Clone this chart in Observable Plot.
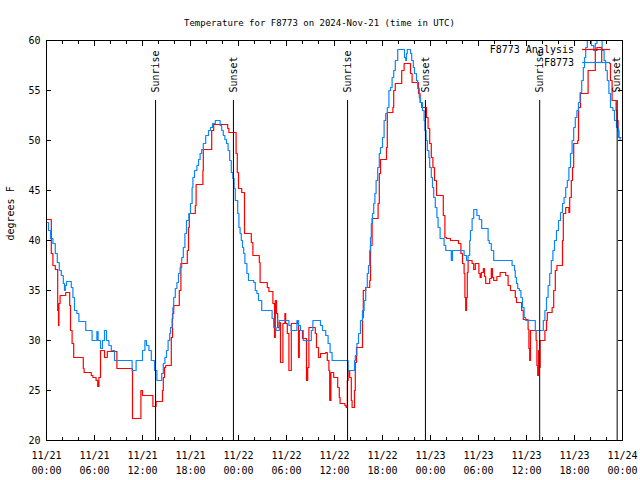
<!DOCTYPE html>
<html><head><meta charset="utf-8">
<script src="https://cdn.jsdelivr.net/npm/d3@7"></script>
<script src="https://cdn.jsdelivr.net/npm/@observablehq/plot@0.6"></script>
<style>body{margin:0;background:#fff}#chart{position:relative;width:640px;height:480px}</style>
</head><body><div id="chart"></div>
<script>
const titleText = "Temperature for F8773 on 2024-Nov-21 (time in UTC)";
const yLabel = "degrees F";
const startTime = "2024-11-21T00:00:00Z";
const endTime = "2024-11-24T00:00:00Z";
const seriesNames = ["F8773 Analysis", "F8773"];
const seriesColors = ["#ff0000", "#0a84ff"];
const yTicks = [20, 25, 30, 35, 40, 45, 50, 55, 60];

// Observations (blue): hours since start, degrees F
const obsHours = [0,0.25,0.5,0.8,1.1,1.35,1.6,1.85,2.1,2.25,2.35,2.5,3.1,3.3,3.5,3.8,4.05,4.9,5.7,6.3,6.45,6.75,7.0,7.25,7.5,7.8,8.1,8.5,10.7,11.2,12.0,12.3,12.5,12.8,13.1,13.5,13.8,
14.4,14.6,14.8,15.0,15.2,15.4,15.5,15.7,15.8,15.9,16.1,16.3,16.5,16.7,16.9,17.1,17.3,17.5,17.8,18.0,18.2,18.3,18.5,18.8,19.0,19.2,19.4,19.6,19.9,20.25,20.5,20.75,21.1,21.7,21.9,22.1,22.3,22.5,22.7,22.9,23.1,23.3,23.45,23.6,23.9,24.05,24.2,24.35,24.5,24.65,24.8,25.05,25.25,25.9,26.1,26.3,26.5,26.9,28.2,28.4,28.7,29.1,30.3,30.6,31.3,31.5,31.75,32.1,33.1,33.3,34.25,34.5,34.9,35.2,35.45,35.7,37.7,38.5,38.6,38.8,39.0,39.25,39.5,39.7,39.9,40.1,40.25,40.4,40.5,40.6,40.75,40.9,41.05,41.2,41.4,41.6,41.75,42.0,42.2,42.4,42.6,42.8,43.0,43.2,43.4,43.6,43.9,44.75,44.9,45.0,45.1,45.5,45.65,45.85,46.0,46.25,46.4,46.6,46.75,47.0,47.2,47.3,47.45,47.6,47.8,47.9,48.1,48.25,48.4,48.6,48.8,48.95,49.2,49.7,49.9,50.6,50.75,52.2,52.5,52.7,52.9,53.0,53.2,53.4,53.8,54.1,54.4,55.2,55.35,55.6,55.9,58.2,58.5,58.6,58.75,58.9,59.1,59.3,59.5,59.7,59.9,61.1,62.1,62.3,62.5,62.7,62.9,63.1,63.3,63.5,63.75,64.0,64.25,64.5,64.7,64.9,65.1,65.3,65.5,65.7,65.9,66.1,66.3,66.5,66.7,66.9,67.1,67.25,67.4,67.6,68.1,68.4,68.6,68.8,69.45,69.7,69.9,70.1,70.3,70.5,70.8,71.0,71.25,71.5,71.7,71.8];
const obsTemps = [41.8,41,40.2,39.7,38.7,37.8,37,36.5,35.7,35,35.5,35.9,35.3,34.3,33,32.7,31.9,31,30,30.9,30,29.2,30,31,30,29.5,29,28,27,28,29,30,29.5,29,28,27,26,
26.7,27.7,28.3,29,30,30.7,31.3,32.2,33.3,34.3,35.2,35.8,36.7,37.3,38.3,39.3,40.7,42,42.7,43.7,45.3,46.3,47,47.5,48.1,48.7,49.1,49.7,50.5,51,51.3,51.7,52,51.5,51,50.5,50.1,49.7,49,48,46.8,46.2,45.2,44,42.7,41.3,40.7,40,39.3,38.7,37.7,36.7,36,35.8,35,34.7,34,33,32.2,31.3,31,32,31.5,31,32,31.5,31,30,31,32,31.5,31,30.5,29.7,28.8,28,27,28,28.5,29.7,30.7,32,33,34,35.3,36.7,37.5,39,40.3,41.7,42.7,43.7,44.7,46,47.3,48.7,49.3,50.3,52,52.7,53.3,55,55.3,56.3,57,58,59.1,58.3,58,58.7,59.1,58.7,58,57.3,56.7,56,55.2,54.3,53.8,53,52,51,50,49,48.3,47.3,46.3,45.3,44.3,43.3,42.3,41.3,40.2,39.5,39,38,39,38.5,38,38.5,40,41,42.2,43.1,42.5,42.1,41.2,40,39.7,39,38,37.5,37,36.3,35.7,35.2,35,34.3,33.3,32.3,32,31,32,33,34.3,35.5,36.7,38,39,40,41,42,42.8,43.7,44.3,45.3,46,47.3,48.7,50,51.3,52.3,53,53.8,54.8,56,57.3,58.3,59.3,60.3,59.5,59,59.7,60.3,59,58,57,56,54.7,53.3,53,52,51.3,50.3,50,50];

// Analysis (red): hours since start, degrees F
const anaHours = [0,0.6,0.8,1.1,1.4,1.5,1.55,1.7,2.4,2.9,3.0,3.2,3.4,4.6,4.7,5.6,5.8,6.2,6.4,6.55,6.75,7.25,7.6,8.8,10.75,11.8,12.0,13.3,13.7,
14.5,14.6,14.75,14.9,15.6,15.75,15.9,16.6,16.8,17.6,17.75,17.85,18.6,18.7,19.55,19.6,20.65,20.9,22.65,22.8,23.7,23.85,24.0,24.4,24.75,25.6,25.8,26.6,26.7,27.6,27.8,28.3,28.5,28.6,28.75,28.9,29.1,29.25,29.55,29.8,29.9,30.1,30.3,30.6,31.4,31.5,31.6,32.0,32.5,32.65,32.8,33.6,33.75,34.0,34.25,34.9,35.1,35.3,35.4,35.55,35.9,36.4,36.6,36.7,37.3,37.45,37.6,37.7,37.9,38.1,38.2,38.5,38.6,38.75,39.5,39.6,39.9,40.4,40.5,40.7,41.45,41.6,41.75,42.5,42.6,43.3,43.4,43.6,44.4,44.7,45.5,45.7,46.5,46.7,46.9,47.5,47.7,47.9,48.1,48.3,48.5,48.75,49.6,49.8,50.0,50.5,51.5,51.8,52.0,52.2,52.3,52.4,52.5,52.6,52.7,53.2,53.4,53.6,54.05,54.2,54.35,54.6,54.75,54.9,55.4,55.6,55.75,55.9,56.3,56.7,57.4,57.7,58.0,58.6,58.75,59.4,59.6,60.2,60.3,60.4,60.5,61.2,61.3,61.4,61.5,61.6,61.7,62.3,62.5,62.6,63.2,63.4,63.6,63.8,64.5,64.6,64.9,65.3,65.4,65.6,65.75,65.9,66.4,66.5,66.75,67.7,68.6,68.8,69.4,70.4,70.5,70.7,71.2,71.3,71.45,71.55,71.8];
const anaTemps = [42.1,38.7,37.5,37.1,33,31.5,33.7,34.5,34.8,33.5,31,29.7,28.3,27.2,26.8,26.5,26.3,26,25.4,26.3,29,28.3,28.9,27.2,22.2,25,24.5,23.4,23.9,
25,26.3,27.3,27.5,30.3,32.7,33.5,35,37.7,39,41.3,42.7,43.5,45.6,47,49.1,51,51.6,51.2,50.8,48.7,46.8,45.2,44.8,40.7,39.8,38.5,37.8,35.8,35.3,34.9,33.7,30.3,34,32.7,31.3,31.8,27.8,31.7,32.7,31.7,30.7,27,31.7,32,28.3,31,30.2,26,27.3,31.3,30.7,29.3,28.3,28.7,28.8,28,27,24,26.8,26.3,25.3,24.3,23.7,23.5,23.3,26,27,26.3,24,23.3,25,27.8,29.3,32.3,35,35.3,36,39.5,42.2,43.7,46.7,48.1,49.3,52.8,53.3,55,55.7,57,57.7,56.7,55.8,54.7,53.8,53.3,52.3,51.2,49.7,48.3,47.3,46,44.5,42.5,40.3,40.2,40,39.7,38.7,37.7,36.7,34.3,33,34.3,36.8,38,37.7,37.1,37.7,36.7,36.3,36.8,37.2,36.4,35.7,36.2,37.2,36.3,36,36.4,36.8,36.5,35.5,35,34.3,33.8,33,32.1,31.1,29.2,28,31,30,27.5,26.5,29,27.3,30,31,32,32.8,33.3,35,37,37.5,40,42.7,43.3,42.8,44.3,46,47.3,49.7,50,53.3,54.7,57,59,59.3,57.8,57.7,56,54,53,52,51,50.3,50.3];

const sunNames = ["Sunrise", "Sunset", "Sunrise", "Sunset", "Sunrise", "Sunset"];
const sunTimes = ["2024-11-21T13:38:00Z", "2024-11-21T23:22:00Z", "2024-11-22T13:38:00Z", "2024-11-22T23:22:00Z", "2024-11-23T13:39:00Z", "2024-11-23T23:20:00Z"];

const t0 = new Date(startTime);
const t1 = new Date(endTime);
const toDate = h => new Date(+t0 + h * 3600e3);
const ana = anaHours.map((h, i) => ({t: toDate(h), v: anaTemps[i]}));
const obs = obsHours.map((h, i) => ({t: toDate(h), v: obsTemps[i]}));
const sun = sunNames.map((n, i) => ({name: n, t: new Date(sunTimes[i])}));
const major = d3.utcHour.every(6).range(t0, new Date(+t1 + 1));
const minor = d3.utcHour.every(2).range(t0, t1).filter(d => d.getUTCHours() % 6 !== 0);
const fmt = d3.utcFormat("%m/%d\n%H:%M");
const none = () => "";
const font = "DejaVu Sans Mono";

const chart = Plot.plot({
  width: 640, height: 480,
  marginTop: 40, marginBottom: 40, marginLeft: 46, marginRight: 18,
  style: {fontFamily: font, fontSize: "10px", background: "white", color: "black"},
  x: {type: "utc", domain: [t0, t1]},
  y: {domain: [20, 60]},
  marks: [
    Plot.line(ana, {x: "t", y: "v", curve: "step-after", stroke: seriesColors[0], strokeWidth: 1.2, clip: true}),
    Plot.line(obs, {x: "t", y: "v", curve: "step-after", stroke: seriesColors[1], strokeWidth: 1.2, clip: true}),
    Plot.ruleX(sun, {x: "t", y1: 20, y2: 54, stroke: "black", strokeWidth: 1}),
    Plot.text(sun, {x: "t", y: 54, text: "name", rotate: -90, textAnchor: "start", dy: -8, fontSize: 10}),
    Plot.frame({stroke: "black"}),
    Plot.axisX(major, {anchor: "bottom", tickSize: -5, tickPadding: 12, tickFormat: fmt, lineHeight: 1.55, label: null}),
    Plot.axisX(minor, {anchor: "bottom", tickSize: -3, tickFormat: none, label: null}),
    Plot.axisX(major, {anchor: "top", tickSize: -5, tickFormat: none, label: null}),
    Plot.axisX(minor, {anchor: "top", tickSize: -3, tickFormat: none, label: null}),
    Plot.axisY(yTicks, {anchor: "left", tickSize: -5, tickPadding: 11, label: null}),
    Plot.axisY(yTicks, {anchor: "right", tickSize: -5, tickFormat: none, label: null}),
    Plot.text([yLabel], {frameAnchor: "left", dx: -36, rotate: -90, text: d => d, fontSize: 10}),
    Plot.text([titleText], {frameAnchor: "top", dy: -21, dx: -15, text: d => d, fontSize: 9})
  ]
});

// legend overlay
const svg = d3.select(chart);
const lg = svg.append("g").attr("font-family", font).attr("font-size", 10);
seriesNames.forEach((name, i) => {
  const y = 49.5 + i * 13;
  lg.append("text").attr("x", 574).attr("y", y).attr("dy", "0.32em").attr("text-anchor", "end").attr("fill", "black").text(name);
  lg.append("line").attr("x1", 582).attr("x2", 610).attr("y1", y).attr("y2", y).attr("stroke", seriesColors[i]).attr("stroke-width", 1.2);
});
document.getElementById("chart").appendChild(chart);
</script>
</body></html>
